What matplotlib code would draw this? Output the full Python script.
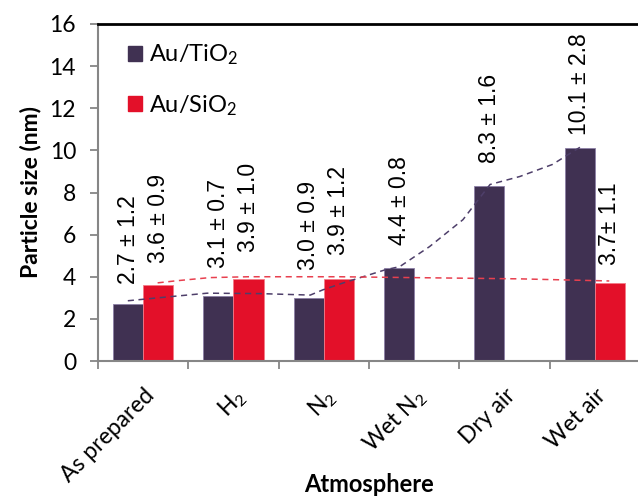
import numpy as np
import matplotlib
matplotlib.use("Agg")
import matplotlib.pyplot as plt
from matplotlib.patches import Patch

plt.rcParams['font.family'] = ['Lato', 'DejaVu Sans']
plt.rcParams['mathtext.fontset'] = 'custom'
plt.rcParams['mathtext.rm'] = 'Lato'
plt.rcParams['mathtext.it'] = 'Lato:italic'
plt.rcParams['mathtext.bf'] = 'Lato:bold'

#---------------- data ----------------
categories = ["As prepared", r"H$_\mathregular{2}$", r"N$_\mathregular{2}$",
              r"Wet N$_\mathregular{2}$", "Dry air", "Wet air"]
tio2 = [2.7, 3.1, 3.0, 4.4, 8.3, 10.1]
sio2 = [3.6, 3.9, 3.9, np.nan, np.nan, 3.7]
tio2_lbl = ["2.7 \u00b1 1.2", "3.1 \u00b1 0.7", "3.0 \u00b1 0.9",
            "4.4 \u00b1 0.8", "8.3 \u00b1 1.6", "10.1 \u00b1 2.8"]
sio2_lbl = ["3.6 \u00b1 0.9", "3.9 \u00b1 1.0", "3.9 \u00b1 1.2",
            "", "", "3.7\u00b1 1.1"]
# dashed trend lines (category units, nm)
tio2_trend_x = [-0.17, 0.19, 0.71, 1.29, 1.85, 1.99, 2.21, 2.68, 2.84,
                3.17, 3.54, 3.84, 4.17, 4.53, 4.87]
tio2_trend_y = [2.86, 3.01, 3.22, 3.20, 3.13, 3.38, 3.70, 4.33, 4.48,
                5.43, 6.71, 8.38, 8.76, 9.33, 10.24]
sio2_trend_x = [0.16, 0.37, 0.74, 1.17, 2.17, 3.17, 4.17, 5.16]
sio2_trend_y = [3.71, 3.81, 3.96, 4.00, 4.00, 3.95, 3.90, 3.80]

# label gap above bar top (placement only)
tio2_gap = [0.96, 1.32, 1.32, 1.10, 1.10, 0.63]
sio2_gap = [1.05, 1.28, 1.13, 0, 0, 0.86]

c_ti = '#403152'
c_si = '#E31029'
grey = '#868686'

#---------------- figure ----------------
fig = plt.figure(figsize=(6.38, 4.96), dpi=100)
ax = fig.add_axes([98/638, 1-361/496, 542/638, 337/496])

x = np.arange(len(categories))
w = 1/3
ax.bar(x - w/2, tio2, w, color=c_ti, edgecolor='#8C80A6', linewidth=0.6, zorder=2)
ax.bar(x + w/2, sio2, w, color=c_si, edgecolor='#F47A86', linewidth=0.6, zorder=2)

ax.plot(tio2_trend_x, tio2_trend_y, ls=(0, (4, 3)), color='#4E3F6A', lw=1.1, zorder=3)
ax.plot(sio2_trend_x, sio2_trend_y, ls=(0, (4, 3)), color='#E8404F', lw=1.1, zorder=3)

for i in range(len(categories)):
    ax.text(x[i] - w/2, tio2[i] + tio2_gap[i], tio2_lbl[i], rotation=90,
            ha='center', va='bottom', fontsize=16.5, family='Liberation Sans')
    if sio2_lbl[i]:
        ax.text(x[i] + w/2, sio2[i] + sio2_gap[i], sio2_lbl[i], rotation=90,
                ha='center', va='bottom', fontsize=16.5, family='Liberation Sans')

ax.set_xlim(-0.5, 5.5)
ax.set_ylim(0, 16)
ax.set_yticks(np.arange(0, 17, 2))
ax.tick_params(axis='y', direction='out', length=5.8, width=1.3, color=grey,
               pad=10, labelsize=16.5)
ax.set_xticks(np.arange(-0.5, 6, 1))
ax.set_xticklabels([])
ax.tick_params(axis='x', which='major', direction='out', length=5.8, width=1.3, color=grey)
ax.set_xticks(x, categories, minor=True)
ax.tick_params(axis='x', which='minor', length=0, pad=17, labelsize=16.5)
for t in ax.get_xticklabels(minor=True):
    t.set_rotation(45)
    t.set_ha('right')
    t.set_rotation_mode('anchor')

for s in ['left', 'bottom']:
    ax.spines[s].set_color(grey)
    ax.spines[s].set_linewidth(1.5)
ax.spines['top'].set_color('black')
ax.spines['top'].set_linewidth(2)
ax.spines['right'].set_visible(False)

ax.set_ylabel('Particle size (nm)', fontsize=16.5, fontweight='bold')
ax.yaxis.set_label_coords(-0.125, 0.5)
ax.yaxis.label.set_va('center')
ax.set_xlabel('Atmosphere', fontsize=17, fontweight='bold')
ax.xaxis.set_label_coords(0.5, -0.365)
ax.xaxis.label.set_va('center')

handles = [Patch(color=c_ti, label=r'Au/TiO$_\mathregular{2}$'),
           Patch(color=c_si, label=r'Au/SiO$_\mathregular{2}$')]
ax.legend(handles=handles, loc='upper left', bbox_to_anchor=(0.055, 0.945),
          frameon=False, fontsize=17, handlelength=0.6, handleheight=0.6,
          handletextpad=0.3, labelspacing=1.1, borderpad=0, borderaxespad=0)

fig.savefig('out.png', dpi=100)
